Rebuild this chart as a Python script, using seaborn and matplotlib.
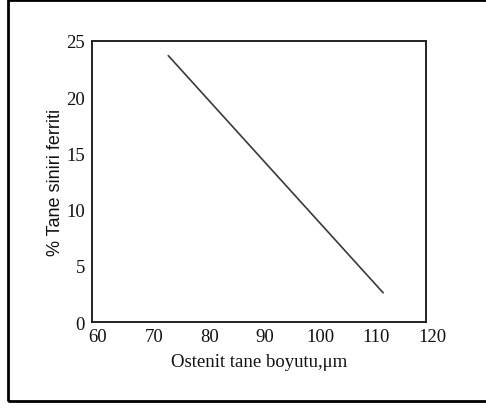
import numpy as np
import pandas as pd
import seaborn as sns
from matplotlib import pyplot as plt
from matplotlib.patches import Rectangle
from matplotlib.transforms import ScaledTranslation

sns.set_style('white')
plt.rcParams['font.family'] = ['Liberation Serif', 'DejaVu Serif']

# line (end points of a straight line)
grain_size = [73.7, 112.3]
ferrite_pct = [23.7, 2.6]
x_ticks = [60, 70, 80, 90, 100, 110, 120]
y_ticks = [0, 5, 10, 15, 20, 25]

df = pd.DataFrame({'size': grain_size, 'ferrite': ferrite_pct})

fig = plt.figure(figsize=(4.86, 4.10), dpi=100)
ax = fig.add_axes([92 / 486, 1 - 323 / 410, 334 / 486, 281 / 410])

sns.lineplot(data=df, x='size', y='ferrite', ax=ax, color='#3a3a3a', linewidth=1.2)

ax.set_xlim(60, 120)
ax.set_ylim(0, 25)
ax.set_xticks(x_ticks)
ax.set_yticks(y_ticks)
ax.tick_params(axis='x', direction='in', length=4, width=1, labelsize=13.5, pad=4,
               labelcolor='#111111')
ax.tick_params(axis='y', direction='in', length=2, width=1, labelsize=13.5, pad=5,
               labelcolor='#111111')
# scanned labels sit a little right of their ticks
shift = ScaledTranslation(6 / 100, 0, fig.dpi_scale_trans)
for lbl in ax.get_xticklabels():
    lbl.set_transform(lbl.get_transform() + shift)
for s in ax.spines.values():
    s.set_color('#222222')
    s.set_linewidth(1.4)

ax.set_xlabel('Ostenit tane boyutu,\u03bcm', fontsize=13.5, labelpad=6, color='#111111')
ax.set_ylabel('% Tane siniri ferriti', fontsize=13, labelpad=2, color='#111111',
              family=['Liberation Sans', 'DejaVu Sans'])

# outer frame around the whole picture (right edge runs off the image)
fig.patches.append(Rectangle((8 / 486, 8 / 410), 490 / 486, 401 / 410,
                             transform=fig.transFigure, fill=False,
                             edgecolor='black', linewidth=2))

plt.savefig('out.png', dpi=100)
